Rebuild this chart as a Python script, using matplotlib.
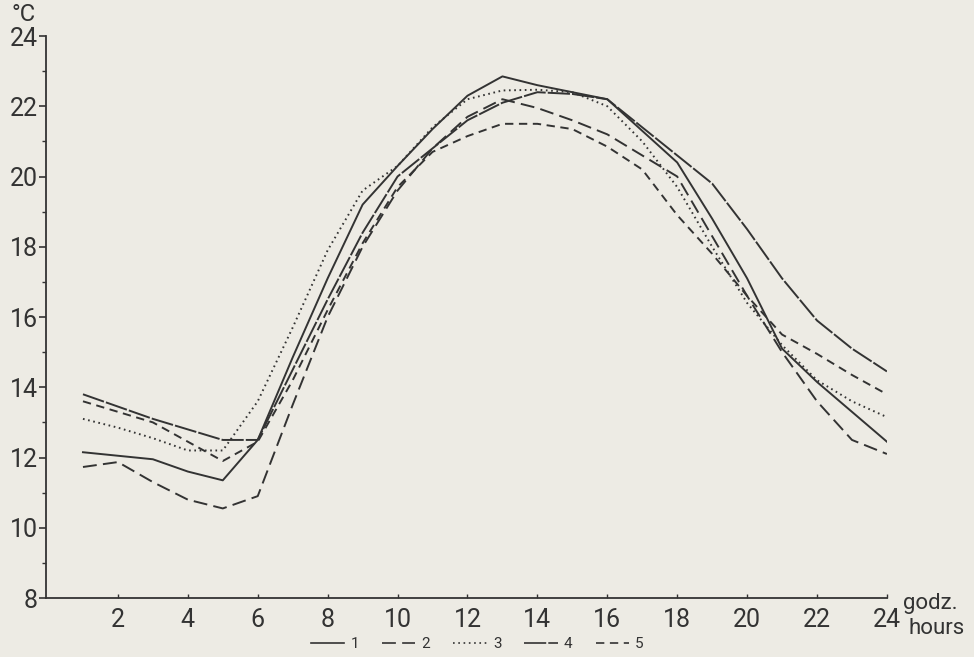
import matplotlib.pyplot as plt
from matplotlib.lines import Line2D
from matplotlib.ticker import MultipleLocator

plt.rcParams['font.family'] = ['Roboto', 'DejaVu Sans']
plt.rcParams['lines.scale_dashes'] = False

# %%
hours = list(range(1, 25))

s1 = [12.15, 12.05, 11.95, 11.6, 11.35, 12.5, 14.85, 17.1, 19.2, 20.3, 21.35, 22.3,
      22.85, 22.6, 22.4, 22.2, 21.3, 20.4, 18.8, 17.1, 15.1, 14.15, 13.3, 12.45]
s2 = [11.73, 11.87, 11.3, 10.8, 10.55, 10.9, 13.5, 16.0, 18.0, 19.6, 20.8, 21.7,
      22.2, 21.95, 21.6, 21.2, 20.6, 20.0, 18.3, 16.6, 15.0, 13.6, 12.5, 12.1]
s3 = [13.1, 12.85, 12.55, 12.2, 12.2, 13.6, 15.7, 17.9, 19.6, 20.3, 21.4, 22.2,
      22.45, 22.47, 22.4, 22.0, 21.0, 19.7, 18.0, 16.4, 15.2, 14.2, 13.6, 13.15]
s4 = [13.8, 13.45, 13.1, 12.8, 12.5, 12.5, 14.5, 16.5, 18.4, 20.0, 20.8, 21.6,
      22.1, 22.4, 22.35, 22.2, 21.4, 20.6, 19.8, 18.5, 17.1, 15.9, 15.1, 14.45]
s5 = [13.6, 13.3, 13.0, 12.45, 11.9, 12.45, 14.2, 16.2, 18.1, 19.7, 20.7, 21.15,
      21.5, 21.5, 21.35, 20.85, 20.2, 18.9, 17.8, 16.6, 15.5, 14.95, 14.35, 13.8]

labels = ['1', '2', '3', '4', '5']
x_ticks = list(range(2, 25, 2))
y_ticks = list(range(8, 25, 2))

# %%
bg = '#edebe4'
ink = '#333333'

fig = plt.figure(figsize=(9.74, 6.57), dpi=100, facecolor=bg)
ax = fig.add_axes([0.0475, 0.0898, 0.8631, 0.8554], facecolor=bg)

styles = [
    dict(linestyle='-'),
    dict(linestyle=(0, (10, 4.5))),
    dict(linestyle=(0, (1.2, 2.6))),
    dict(linestyle=(0, (16, 1.5))),
    dict(linestyle=(0, (6, 4))),
]

for ys, st, lab in zip([s1, s2, s3, s4, s5], styles, labels):
    ax.plot(hours, ys, color=ink, lw=1.4, label=lab, **st)

ax.set_xlim(-0.05, 24)
ax.set_ylim(8, 24)
ax.set_xticks(x_ticks)
ax.set_yticks(y_ticks)
ax.yaxis.set_minor_locator(MultipleLocator(1))

for s in ['top', 'right']:
    ax.spines[s].set_visible(False)
for s in ['left', 'bottom']:
    ax.spines[s].set_color(ink)
    ax.spines[s].set_linewidth(1.3)

ax.tick_params(axis='y', which='major', direction='out', length=5, width=1.2,
               color=ink, labelsize=18, labelcolor=ink, pad=1)
ax.tick_params(axis='y', which='minor', direction='out', length=3, width=1.0, color=ink)
ax.tick_params(axis='x', which='major', direction='in', length=3, width=1.0,
               color=ink, labelsize=18, labelcolor=ink, pad=7)

fig.text(0.012, 0.978, '°C', fontsize=17, color=ink, ha='left', va='center')
fig.text(0.927, 0.082, 'godz.', fontsize=16, color=ink, ha='left', va='center')
fig.text(0.933, 0.043, 'hours', fontsize=16, color=ink, ha='left', va='center')

handles = [Line2D([], [], color=ink, lw=1.2, **st) for st in styles]
fig.legend(handles, labels, loc='center', bbox_to_anchor=(0.49, 0.02), ncol=5,
           frameon=False, fontsize=11, handlelength=2.2, columnspacing=1.5,
           handletextpad=0.4, labelcolor=ink)

fig.savefig('out.png', dpi=100, facecolor=bg)
